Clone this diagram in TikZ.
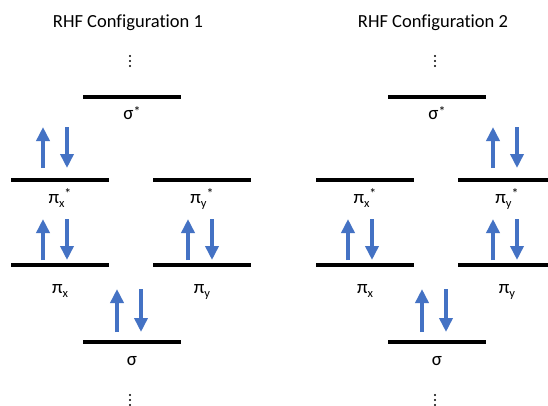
\documentclass[tikz,border=0pt]{standalone}
\usepackage{fontspec}
\setmainfont{Carlito}[Ligatures=NoCommon]
\usetikzlibrary{arrows.meta}
\definecolor{spinblue}{HTML}{4472C4}

% small index and star for orbital labels
\newcommand\orbsub[1]{\raisebox{-4pt}{\fontsize{12.5}{12}\selectfont #1}}
\newcommand\orbstar[1]{\raisebox{#1}{\fontsize{14}{14}\selectfont *}}

\tikzset{
  level/.style={line width=4pt, line cap=butt},
  spin/.style={spinblue, line width=4pt, line cap=butt,
    -{Triangle[width=13pt,length=14pt]}},
  lbl/.style={anchor=base, inner sep=0pt, font=\fontsize{19}{22}\selectfont},
  ttl/.style={anchor=base, inner sep=0pt, font=\fontsize{18.5}{22}\selectfont},
  dot/.style={fill=black, circle, inner sep=0pt, minimum size=2.2pt}
}

% energy level: name, left x, right x, y
\newcommand\elevel[4]{%
  \coordinate (#1-l) at (#2,#4);
  \coordinate (#1-r) at (#3,#4);
  \draw[level] (#1-l) -- (#1-r);}

% electron pair: name, x of up spin, x of down spin, top y, bottom y
\newcommand\epair[5]{%
  \coordinate (#1-ub) at (#2,#5);
  \coordinate (#1-ut) at (#2,#4);
  \coordinate (#1-dt) at (#3,#4);
  \coordinate (#1-db) at (#3,#5);
  \draw[spin] (#1-ub) -- (#1-ut);
  \draw[spin] (#1-dt) -- (#1-db);}

\begin{document}
\begin{tikzpicture}[x=1pt,y=-1pt]
\clip (0,0) rectangle (548,405);
\fill[white] (0,0) rectangle (548,405);

% ---------- configuration 1 ----------
\node[ttl] (t1) at (128,27) {RHF Configuration 1};
\node[dot] (a1) at (130,56) {};
\node[dot] (a2) at (130,61) {};
\node[dot] (a3) at (130,66) {};

\elevel{As}{83}{181}{97}
\node[lbl] (As-t) at (132,119) {σ\orbstar{3pt}};

\elevel{Axs}{11}{109}{180}
\node[lbl] (Axs-t) at (60,203) {π\orbsub{x}\orbstar{5pt}};
\elevel{Ays}{153}{251}{180}
\node[lbl] (Ays-t) at (202,203) {π\orbsub{y}\orbstar{5pt}};

\elevel{Ax}{11}{109}{265}
\node[lbl] (Ax-t) at (60,293) {π\orbsub{x}};
\elevel{Ay}{153}{251}{265}
\node[lbl] (Ay-t) at (202,293) {π\orbsub{y}};

\elevel{Ab}{83}{181}{342}
\node[lbl] (Ab-t) at (132,365) {σ};

\node[dot] (b1) at (130,395) {};
\node[dot] (b2) at (130,400) {};
\node[dot] (b3) at (130,405) {};

\epair{Pxs}{43}{67}{127}{168}
\epair{Px}{43}{67}{219}{260}
\epair{Py}{188}{212}{219}{260}
\epair{Pb}{117}{141}{289}{332}

% ---------- configuration 2 ----------
\node[ttl] (t2) at (433,27) {RHF Configuration 2};
\node[dot] (c1) at (435,56) {};
\node[dot] (c2) at (435,61) {};
\node[dot] (c3) at (435,66) {};

\elevel{Bs}{388}{486}{97}
\node[lbl] (Bs-t) at (437,119) {σ\orbstar{3pt}};

\elevel{Bxs}{316}{414}{180}
\node[lbl] (Bxs-t) at (365,203) {π\orbsub{x}\orbstar{5pt}};
\elevel{Bys}{458}{556}{180}
\node[lbl] (Bys-t) at (507,203) {π\orbsub{y}\orbstar{5pt}};

\elevel{Bx}{316}{414}{265}
\node[lbl] (Bx-t) at (365,293) {π\orbsub{x}};
\elevel{By}{458}{556}{265}
\node[lbl] (By-t) at (507,293) {π\orbsub{y}};

\elevel{Bb}{388}{486}{342}
\node[lbl] (Bb-t) at (437,365) {σ};

\node[dot] (d1) at (435,395) {};
\node[dot] (d2) at (435,400) {};
\node[dot] (d3) at (435,405) {};

\epair{Qys}{493}{517}{127}{168}
\epair{Qx}{348}{372}{219}{260}
\epair{Qy}{493}{517}{219}{260}
\epair{Qb}{422}{446}{289}{332}
\end{tikzpicture}
\end{document}
